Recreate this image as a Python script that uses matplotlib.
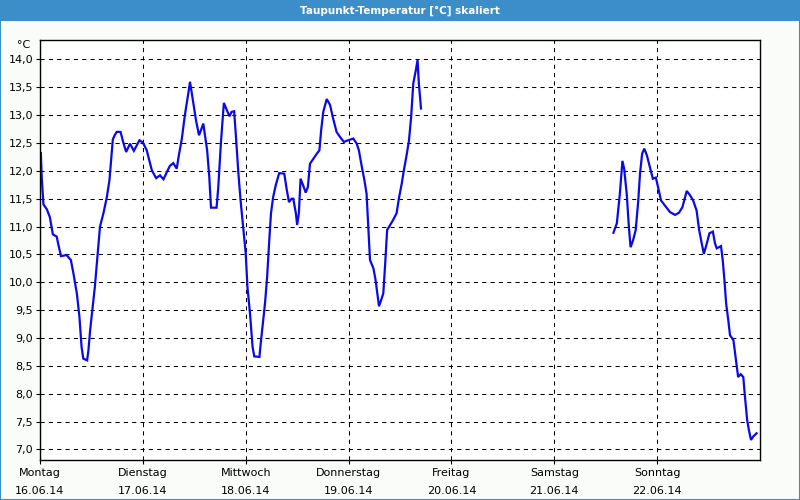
import matplotlib
matplotlib.use("Agg")
import matplotlib.pyplot as plt
from matplotlib.patches import Rectangle

# hours since Monday 16.06.14 00:00 and dew point in °C
HOURS_A = [0.2, 0.4, 0.8, 1.6, 2.3, 3.0, 3.9, 4.3, 4.9, 6.2, 7.2, 7.8, 8.6, 9.2, 9.7,
           10.1, 11.0, 11.3, 11.7, 12.3, 12.8, 13.4, 14.0, 14.8, 15.6, 16.2, 16.6, 17.0,
           17.5, 17.9, 18.8, 19.4, 20.1, 21.0, 21.9, 23.2, 24.0, 24.9, 25.4, 26.1, 27.1,
           28.0, 28.8, 29.6, 30.3, 31.1, 31.9, 32.4, 33.1, 33.8, 34.6, 35.0, 35.6, 36.4,
           37.1, 37.6, 38.1, 38.5, 39.0, 39.5, 39.9, 41.2, 41.6, 42.2, 42.9, 43.6, 44.2,
           44.7, 45.3, 45.7, 46.3, 46.8, 47.4, 48.0, 48.4, 49.0, 49.6, 50.0, 51.2, 51.5,
           52.0, 52.5, 53.0, 53.5, 53.9, 54.4, 55.0, 55.8, 57.0, 57.6, 58.1, 58.7, 59.1,
           59.7, 60.0, 60.4, 60.8, 61.4, 62.0, 62.5, 63.0, 63.8, 64.6, 65.2, 65.6, 66.1,
           66.9, 67.7, 68.3, 69.2, 70.0, 70.9, 71.9, 73.1, 73.9, 74.4, 75.1, 75.7, 76.2,
           76.6, 77.0, 77.8, 78.3, 78.7, 79.1, 79.6, 80.1, 80.5, 81.0, 81.7, 82.4, 83.2,
           83.8, 84.4, 84.9, 85.6, 86.1, 86.6, 87.1, 87.7, 88.1, 88.4, 88.9]
TEMP_A = [12.32, 11.89, 11.40, 11.31, 11.17, 10.86, 10.82, 10.67, 10.47, 10.49, 10.40,
          10.16, 9.80, 9.38, 8.84, 8.63, 8.60, 8.78, 9.14, 9.56, 9.92, 10.46, 11.00, 11.24,
          11.53, 11.83, 12.19, 12.57, 12.65, 12.70, 12.70, 12.52, 12.34, 12.49, 12.36,
          12.55, 12.51, 12.37, 12.22, 12.01, 11.87, 11.92, 11.85, 11.98, 12.09, 12.14,
          12.04, 12.28, 12.58, 13.00, 13.39, 13.60, 13.30, 12.91, 12.64, 12.74, 12.85,
          12.64, 12.37, 11.89, 11.34, 11.34, 11.71, 12.49, 13.22, 13.09, 12.98, 13.06,
          13.07, 12.64, 11.95, 11.47, 11.00, 10.52, 9.92, 9.44, 8.84, 8.67, 8.66, 8.90,
          9.26, 9.62, 10.10, 10.76, 11.24, 11.53, 11.74, 11.96, 11.95, 11.65, 11.44, 11.50,
          11.50, 11.24, 11.03, 11.24, 11.86, 11.74, 11.61, 11.71, 12.13, 12.22, 12.31,
          12.37, 12.73, 13.06, 13.29, 13.18, 12.97, 12.70, 12.61, 12.52, 12.55, 12.58,
          12.49, 12.37, 12.07, 11.83, 11.59, 11.00, 10.40, 10.25, 10.04, 9.80, 9.57, 9.68,
          9.80, 10.28, 10.94, 11.03, 11.12, 11.24, 11.53, 11.77, 12.01, 12.31, 12.55,
          12.97, 13.57, 13.81, 13.99, 13.57, 13.12]

HOURS_B = [133.8, 134.6, 135.3, 135.9, 136.3, 136.9, 137.4, 137.8, 138.4, 139.0, 139.6,
           140.0, 140.5, 141.0, 141.6, 142.3, 143.0, 143.7, 144.3, 144.9, 145.8, 147.0,
           148.2, 149.1, 149.9, 150.9, 151.7, 152.4, 153.2, 153.8, 154.4, 154.9, 155.6,
           156.2, 157.0, 157.5, 157.9, 158.9, 159.3, 159.7, 160.1, 160.6, 161.0, 161.8,
           162.4, 162.9, 163.5, 164.1, 164.5, 165.0, 165.4, 165.9, 166.4, 167.2]
TEMP_B = [10.89, 11.06, 11.59, 12.18, 12.04, 11.59, 11.00, 10.63, 10.76, 10.94, 11.47,
          11.95, 12.31, 12.40, 12.28, 12.07, 11.86, 11.88, 11.68, 11.47, 11.38, 11.26,
          11.21, 11.25, 11.35, 11.64, 11.56, 11.47, 11.29, 10.94, 10.70, 10.51, 10.70,
          10.88, 10.91, 10.70, 10.61, 10.65, 10.40, 10.04, 9.62, 9.32, 9.05, 8.96, 8.60,
          8.30, 8.35, 8.30, 7.94, 7.53, 7.35, 7.17, 7.23, 7.29]

DAYS = ["Montag", "Dienstag", "Mittwoch", "Donnerstag", "Freitag", "Samstag", "Sonntag"]
DATES = ["16.06.14", "17.06.14", "18.06.14", "19.06.14", "20.06.14", "21.06.14", "22.06.14"]
Y_TICKS = [7.0, 7.5, 8.0, 8.5, 9.0, 9.5, 10.0, 10.5, 11.0, 11.5, 12.0, 12.5, 13.0, 13.5, 14.0]

TITLE = "Taupunkt-Temperatur [°C] skaliert"
FRAME = "#3b8ec8"
LINE = "#0a0ae8"

plt.rcParams["font.family"] = "DejaVu Sans"
plt.rcParams["font.size"] = 8

fig = plt.figure(figsize=(8, 5), dpi=100)
fig.patch.set_facecolor("#fafcfa")

# window frame + title bar
fig.patches.append(Rectangle((0, 0.959), 1, 0.041, transform=fig.transFigure,
                             facecolor=FRAME, edgecolor="none", zorder=0))
fig.patches.append(Rectangle((0.0006, 0.001), 0.9988, 0.998, transform=fig.transFigure,
                             facecolor="none", edgecolor=FRAME, linewidth=1.5, zorder=0))
fig.text(0.5, 0.979, TITLE, color="white", ha="center", va="center",
         fontsize=7.5, fontweight="bold")

ax = fig.add_axes([0.05, 0.08, 0.90, 0.84])
ax.set_facecolor("white")

ax.plot(HOURS_A, TEMP_A, color=LINE, linewidth=1.6, solid_joinstyle="miter")
ax.plot(HOURS_B, TEMP_B, color=LINE, linewidth=1.6, solid_joinstyle="miter")

ax.set_xlim(0, 168)
ax.set_ylim(6.81, 14.35)

ax.set_xticks([24 * i for i in range(len(DAYS))])
ax.set_xticklabels([f"{d}\n{t}" for d, t in zip(DAYS, DATES)], linespacing=1.95)
ax.set_yticks(Y_TICKS)
ax.set_yticklabels([f"{v:.1f}".replace(".", ",") for v in Y_TICKS])
ax.tick_params(axis="both", length=3, width=0.8, color="black", labelsize=8, pad=2)
ax.tick_params(axis="x", pad=3)

ax.grid(True, color="black", linestyle=(0, (4, 4)), linewidth=0.75)
for s in ax.spines.values():
    s.set_color("black")
    s.set_linewidth(1.0)

fig.text(0.038, 0.91, "°C", ha="right", va="center", fontsize=8)

fig.savefig("out.png", dpi=100, facecolor=fig.get_facecolor())
